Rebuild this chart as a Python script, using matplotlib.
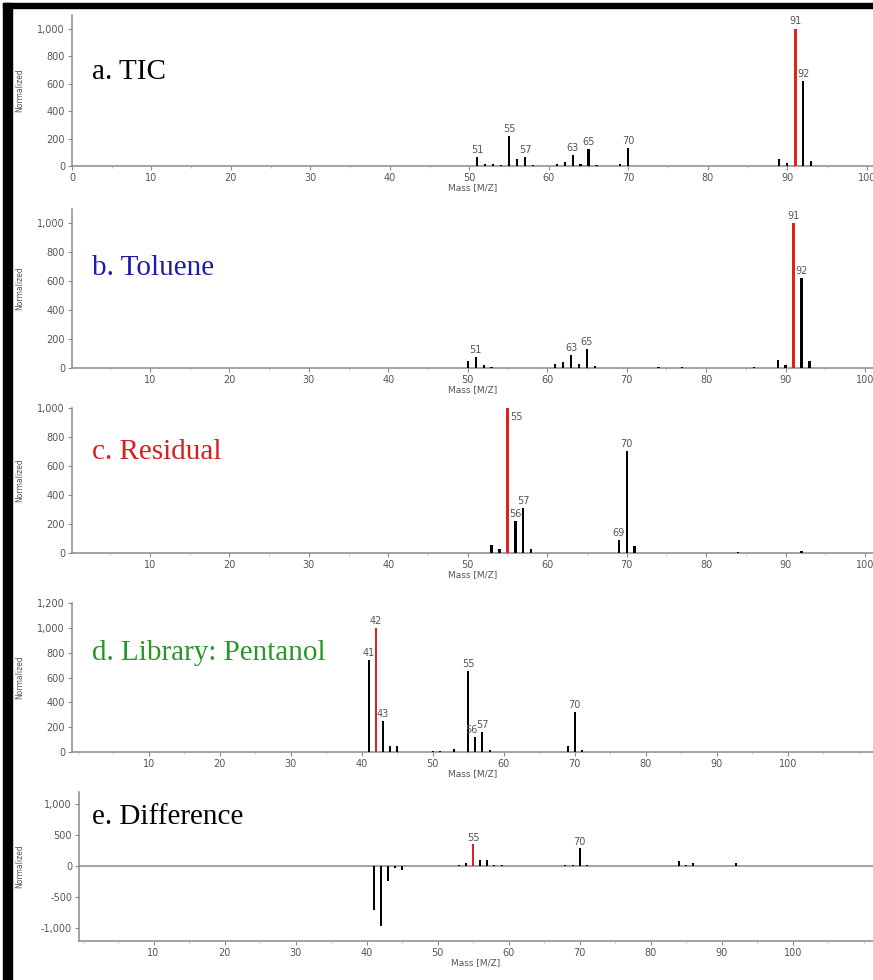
import matplotlib.pyplot as plt
from matplotlib.patches import Rectangle
from matplotlib.ticker import MultipleLocator, StrMethodFormatter

plt.rcParams['axes.unicode_minus'] = False

# a. TIC
tic_mz = [51, 52, 53, 54, 55, 56, 57, 58, 61, 62, 63, 64, 65, 66, 69, 70, 71, 87, 89, 90, 91, 92, 93]
tic_int = [65, 15, 15, 5, 217, 50, 65, 5, 12, 30, 80, 15, 123, 10, 12, 130, 3, 3, 50, 22, 1000, 620, 38]
tic_labels = [51, 55, 57, 63, 65, 70, 91, 92]

# b. Toluene
tol_mz = [50, 51, 52, 53, 61, 62, 63, 64, 65, 66, 73, 74, 75, 76, 77, 84, 85, 86, 87, 89, 90, 91, 92, 93]
tol_int = [48, 76, 20, 5, 25, 40, 90, 25, 131, 15, 3, 10, 3, 3, 10, 3, 3, 8, 3, 55, 22, 1000, 620, 45]
tol_labels = [51, 63, 65, 91, 92]

# c. Residual
res_mz = [51, 52, 53, 54, 55, 56, 57, 58, 59, 67, 69, 70, 71, 84, 87, 88, 92]
res_int = [3, 3, 55, 25, 1000, 220, 310, 30, 3, 3, 90, 700, 45, 10, 3, 3, 12]
res_labels = [55, 56, 57, 69, 70]

# d. Library: Pentanol
lib_mz = [41, 42, 43, 44, 45, 50, 51, 53, 55, 56, 57, 58, 59, 67, 69, 70, 71]
lib_int = [740, 1000, 250, 50, 50, 10, 10, 25, 650, 120, 160, 15, 3, 3, 50, 320, 15]
lib_labels = [41, 42, 43, 55, 56, 57, 70]

# e. Difference
diff_mz = [41, 42, 43, 44, 45, 46, 48, 49, 52, 53, 54, 55, 56, 57, 58, 59, 67, 68, 69, 70, 71, 78, 84, 85, 86, 92]
diff_int = [-715, -970, -240, -40, -60, -5, 5, 5, 5, 10, 40, 345, 100, 90, 10, 8, 5, 8, 20, 290, 15, 5, 75, 10, 45, 50]
diff_labels = [55, 70]

W, H = 873, 980
fig = plt.figure(figsize=(W / 100, H / 100), dpi=100)

GRAY = '#8a8a8a'
TXT = '#555555'


def add_ax(left, top, right, bottom):
    return fig.add_axes([left / W, 1 - bottom / H, (right - left) / W, (bottom - top) / H])


def spectrum(ax, mz, inten, labels, xlim, ylim, yticks, xticks, title, tcolor, title_y,
             label_right=(), label_left=()):
    base = max(range(len(inten)), key=lambda i: inten[i])
    colors = ['black'] * len(mz)
    colors[base] = '#e0201b'
    widths = [0.28] * len(mz)
    widths[base] = 0.36
    ax.bar(mz, inten, width=widths, color=colors, zorder=3)
    ymax = ylim[1]
    for m, v in zip(mz, inten):
        if m in labels:
            if m in label_right:
                ax.text(m + 0.3, v - 0.06 * ymax, str(m), ha='left', va='center',
                        fontsize=7, color=TXT)
            elif m in label_left:
                ax.text(m + 0.3, v + 0.015 * ymax, str(m), ha='right', va='bottom',
                        fontsize=7, color=TXT)
            else:
                ax.text(m, v + 0.015 * ymax, str(m), ha='center', va='bottom',
                        fontsize=7, color=TXT)
    ax.set_xlim(*xlim)
    ax.set_ylim(*ylim)
    ax.set_yticks(yticks)
    ax.set_xticks(xticks)
    ax.xaxis.set_minor_locator(MultipleLocator(5))
    ax.yaxis.set_minor_locator(MultipleLocator(yticks[1] - yticks[0]))
    ax.yaxis.set_major_formatter(StrMethodFormatter('{x:,.0f}'))
    for s in ['top', 'right']:
        ax.spines[s].set_visible(False)
    for s in ['left', 'bottom']:
        ax.spines[s].set_color(GRAY)
        ax.spines[s].set_linewidth(1.1)
    ax.tick_params(which='major', length=3, color=GRAY, labelsize=7, labelcolor=TXT, pad=2)
    ax.tick_params(which='minor', length=1.5, color='#bbbbbb')
    ax.set_xlabel('Mass [M/Z]', fontsize=6.5, color=TXT, labelpad=0)
    ax.set_ylabel('Normalized', fontsize=5.5, color=TXT)
    pos = ax.get_position()
    ax.yaxis.set_label_coords((24 / W - pos.x0) / pos.width, 0.5)
    ax.text(92 / W, title_y, title, transform=fig.transFigure, fontsize=21,
            family='Liberation Serif', color=tcolor, ha='left', va='center')


ax = add_ax(72, 15, 873, 166)
spectrum(ax, tic_mz, tic_int, tic_labels, (0, 100.8), (0, 1100), list(range(0, 1001, 200)),
         list(range(0, 101, 10)), 'a. TIC', 'black', 1 - 72 / H)

ax = add_ax(72, 209, 873, 368)
spectrum(ax, tol_mz, tol_int, tol_labels, (0.2, 101), (0, 1100), list(range(0, 1001, 200)),
         list(range(10, 101, 10)), 'b. Toluene', '#1c1ca8', 1 - 268 / H)

ax = add_ax(72, 408, 873, 553)
spectrum(ax, res_mz, res_int, res_labels, (0.2, 101), (0, 1000), list(range(0, 1001, 200)),
         list(range(10, 101, 10)), 'c. Residual', '#d81e1e', 1 - 452 / H, label_right=(55,))

ax = add_ax(72, 603, 873, 752)
spectrum(ax, lib_mz, lib_int, lib_labels, (-0.8, 112), (0, 1200), list(range(0, 1201, 200)),
         list(range(10, 101, 10)), 'd. Library: Pentanol', '#2a962a', 1 - 653 / H,
         label_left=(56,))

ax = add_ax(79, 792, 873, 941)
ax.axhline(0, color=GRAY, lw=1.1, zorder=2)
spectrum(ax, diff_mz, diff_int, diff_labels, (-0.5, 111.3), (-1210, 1190),
         [-1000, -500, 0, 500, 1000], list(range(10, 101, 10)), 'e. Difference', 'black',
         1 - 817 / H)

# black frame around the picture
fig.add_artist(Rectangle((3 / W, 0), 9 / W, 1 - 3 / H, transform=fig.transFigure,
                         color='black', zorder=10))
fig.add_artist(Rectangle((3 / W, 1 - 8 / H), 1, 5 / H, transform=fig.transFigure,
                         color='black', zorder=10))

fig.savefig('out.png', dpi=100)
